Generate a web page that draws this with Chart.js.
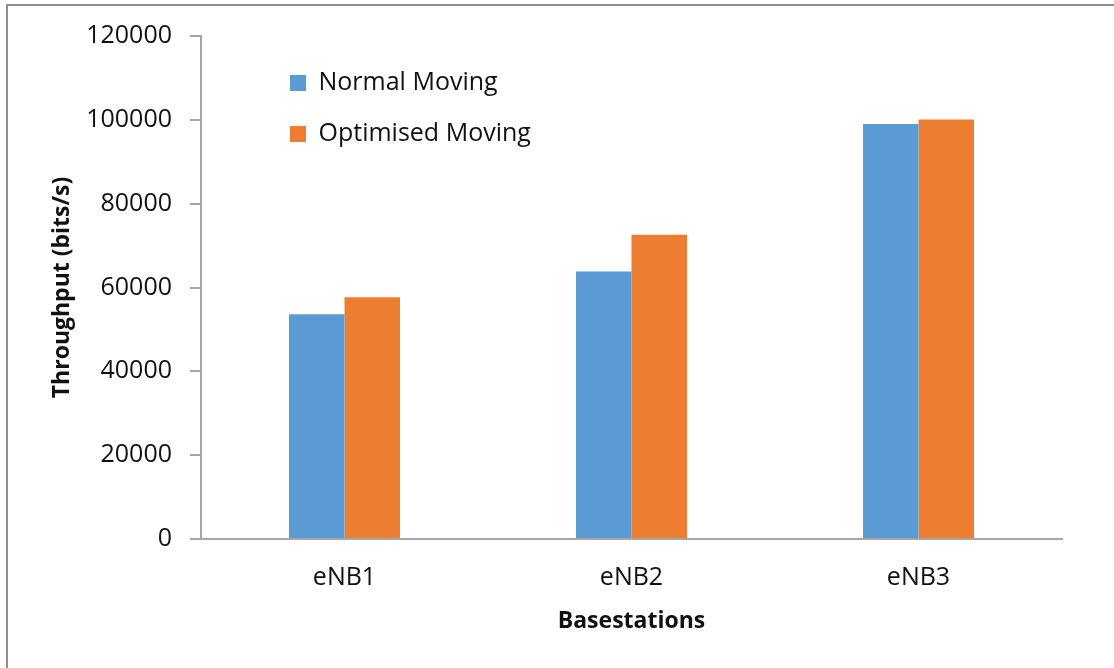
<!DOCTYPE html>
<html>
<head>
<meta charset="utf-8">
<script src="https://cdn.jsdelivr.net/npm/chart.js@4/dist/chart.umd.min.js"></script>
<style>
    body { margin: 0; background: #fff; }
    canvas { display: block; }
</style>
</head>
<body>
<canvas id="throughputChart" width="1114" height="668"></canvas>
<script>
// throughput per basestation
var categories = ['eNB1', 'eNB2', 'eNB3'];
var normalMoving = [53600, 63800, 99000];
var optimisedMoving = [57700, 72600, 100100];
var yMin = 0;
var yMax = 120000;
var yStep = 20000;

var colors = {
    blue: '#5b9bd5',
    orange: '#ed7d31',
    axis: '#a6a6a6',
    frame: '#8f8f8f',
    text: '#111'
};

var fontFamily = "'Open Sans', 'Noto Sans', sans-serif";

// thin frame along top and left edges of the figure
var framePlugin = {
    id: 'frame',
    beforeDraw: function (chart) {
        var ctx = chart.ctx;
        ctx.save();
        ctx.strokeStyle = colors.frame;
        ctx.lineWidth = 2;
        ctx.beginPath();
        ctx.moveTo(7, chart.height);
        ctx.lineTo(7, 5);
        ctx.lineTo(chart.width, 5);
        ctx.stroke();
        ctx.restore();
    }
};

// push the in-plot legend away from the axis corner
var legendOffset = {
    id: 'legendOffset',
    afterLayout: function (chart) {
        chart.legend.left = chart.chartArea.left + 63;
        chart.legend.top = chart.chartArea.top + 8.5;
    }
};

new Chart(document.getElementById('throughputChart'), {
    type: 'bar',
    data: {
        labels: categories,
        datasets: [
            {
                label: 'Normal Moving',
                backgroundColor: colors.blue,
                data: normalMoving
            },
            {
                label: 'Optimised Moving',
                backgroundColor: colors.orange,
                data: optimisedMoving
            }
        ]
    },
    options: {
        responsive: false,
        animation: false,
        layout: {
            padding: {top: 36, right: 52, left: 0, bottom: 0}
        },
        datasets: {
            bar: {
                categoryPercentage: 0.387,
                barPercentage: 1.0
            }
        },
        plugins: {
            tooltip: {enabled: false},
            legend: {
                position: 'chartArea',
                align: 'start',
                labels: {
                    color: colors.text,
                    boxWidth: 16,
                    boxHeight: 16,
                    padding: 26,
                    font: {size: 25, family: fontFamily}
                }
            }
        },
        scales: {
            x: {
                afterFit: function (scale) { scale.height = 129; },
                grid: {display: false, drawTicks: false},
                border: {display: true, color: colors.axis, width: 2},
                ticks: {
                    color: colors.text,
                    padding: 24,
                    font: {size: 25, family: fontFamily}
                },
                title: {
                    display: true,
                    text: 'Basestations',
                    color: colors.text,
                    padding: {top: 0, bottom: 33},
                    font: {size: 23, weight: 'bold', family: fontFamily}
                }
            },
            y: {
                min: yMin,
                max: yMax,
                afterFit: function (scale) { scale.width = 201; },
                grid: {
                    drawOnChartArea: false,
                    drawTicks: true,
                    tickLength: 11,
                    color: colors.axis,
                    lineWidth: 2
                },
                border: {display: true, color: colors.axis, width: 2},
                ticks: {
                    stepSize: yStep,
                    color: colors.text,
                    padding: 18,
                    font: {size: 25, family: fontFamily},
                    callback: function (value) {
                        return String(value); // no thousands separator
                    }
                },
                title: {
                    display: true,
                    text: 'Throughput (bits/s)',
                    color: colors.text,
                    padding: {top: 49, bottom: 0},
                    font: {size: 23, weight: 'bold', family: fontFamily}
                }
            }
        }
    },
    plugins: [framePlugin, legendOffset]
});
</script>
</body>
</html>
